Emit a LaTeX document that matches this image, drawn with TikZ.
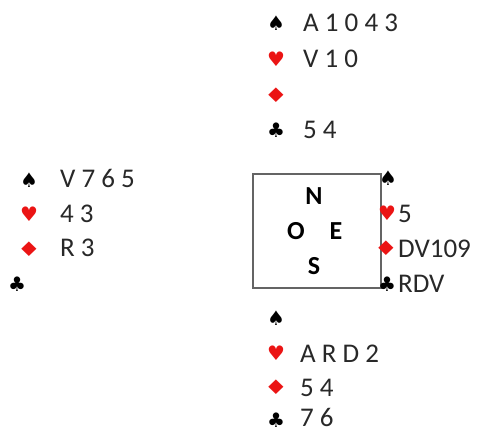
\documentclass[tikz,border=0pt]{standalone}
\usepackage{fontspec}
\setmainfont{Carlito}
\newfontfamily\suitfont{DejaVu Sans}
\definecolor{suitred}{RGB}{235,20,20}
\definecolor{txt}{RGB}{40,40,40}
\definecolor{boxline}{RGB}{100,100,100}
\begin{document}
\begin{tikzpicture}[x=1pt,y=-1pt,
  hand/.style={font=\fontsize{27}{27}\selectfont, text=txt, anchor=base west, inner sep=0pt},
  suit/.style={font=\suitfont\fontsize{20}{20}\selectfont, inner sep=0pt, anchor=center},
  blk/.style={suit, text=black},
  rd/.style={suit, text=suitred},
  rdd/.style={rd, xscale=1.35},
  dir/.style={font=\bfseries\fontsize{26}{26}\selectfont, text=black, inner sep=0pt, anchor=center},
  tablebox/.style={draw=boxline, line width=1.5pt, minimum width=128pt, minimum height=114pt, inner sep=0pt, anchor=north west}
]
\useasboundingbox (0,0) rectangle (483,432);
% North
\node[blk] (ns) at (276,23) {♠};
\node[rd]  (nh) at (276,59) {♥};
\node[rdd] (nd) at (276,95) {♦};
\node[blk] (nc) at (276,130) {♣};
\node[hand] (nst) at (303,31) {A 1 0 4 3};
\node[hand] (nht) at (303,67) {V 1 0};
\node[hand] (nct) at (303,138) {5 4};
% West
\node[blk] (ws) at (29,180) {♠};
\node[rd]  (wh) at (29,214) {♥};
\node[rdd] (wd) at (29,249) {♦};
\node[blk] (wc) at (17,284) {♣};
\node[hand] (wst) at (60,187) {V 7 6 5};
\node[hand] (wht) at (60,222) {4 3};
\node[hand] (wdt) at (60,256) {R 3};
% Table
\node[tablebox] (table) at (252,173) {};
\node[dir] (N) at (314,196) {N};
\node[dir] (O) at (296,231) {O};
\node[dir] (E) at (336,231) {E};
\node[dir] (S) at (314,266) {S};
% East
\node[blk] (es) at (388,178) {♠};
\node[rd]  (eh) at (387,213) {♥};
\node[rdd] (ed) at (386,248) {♦};
\node[blk] (ec) at (387,284) {♣};
\node[hand] (eht) at (398,222) {5};
\node[hand] (edt) at (398,257) {DV109};
\node[hand] (ect) at (398,292) {RDV};
% South
\node[blk] (ss) at (276,318) {♠};
\node[rd]  (sh) at (276,353) {♥};
\node[rdd] (sd) at (276,387) {♦};
\node[blk] (sc) at (276,420) {♣};
\node[hand] (sht) at (300,362) {A R D 2};
\node[hand] (sdt) at (300,396) {5 4};
\node[hand] (sct) at (300,426) {7 6};
\end{tikzpicture}
\end{document}
